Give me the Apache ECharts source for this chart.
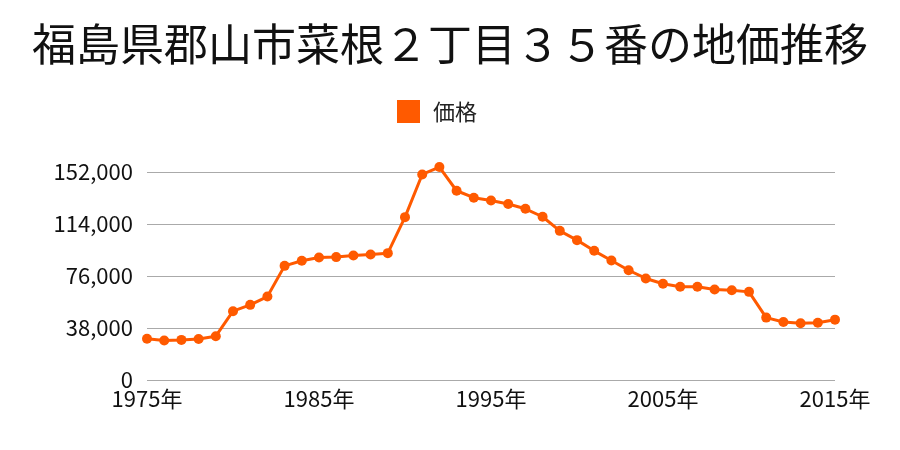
<!DOCTYPE html>
<html><head><meta charset="utf-8">
<script src="https://cdn.jsdelivr.net/npm/echarts@6/dist/echarts.min.js"></script>
<style>html,body{margin:0;padding:0;background:#fff}#c{width:900px;height:450px}</style>
</head><body><div id="c"></div>
<script>
const titleText = '福島県郡山市菜根２丁目３５番の地価推移';
const seriesName = '価格';
const years = [];
for (let y = 1975; y <= 2015; y++) years.push(String(y));
const prices = [30200, 28800, 29300, 30000, 32000, 50300, 54900, 61000, 83400, 87100,
  89500, 89800, 91000, 91700, 92700, 119000, 150200, 155600, 138300, 133200,
  131200, 128600, 125100, 119300, 109000, 102200, 94400, 87300, 80200, 74200,
  70300, 68100, 68100, 66100, 65600, 64400, 45600, 42400, 41500, 41900, 44100];
const yTicks = [0, 38000, 76000, 114000, 152000];

const chart = echarts.init(document.getElementById('c'));
const font = '"Noto Sans CJK JP", "Noto Sans", sans-serif';
chart.setOption({
  animation: false,
  title: { text: titleText, left: 'center', top: 17,
    textStyle: { fontFamily: font, fontSize: 44, fontWeight: 'normal', color: '#111' } },
  legend: { top: 95, left: 392, itemWidth: 23, itemHeight: 23, itemGap: 10,
    data: [{ name: seriesName, icon: 'rect' }],
    textStyle: { fontFamily: font, fontSize: 22, color: '#222', padding: [0, 0, 0, 8] } },
  grid: { left: 147, right: 65, top: 172, bottom: 70, containLabel: false },
  xAxis: { type: 'category', data: years, boundaryGap: false,
    axisLine: { show: false }, axisTick: { show: false },
    axisLabel: { interval: 9, fontFamily: font, fontSize: 22, color: '#111', margin: 8,
      formatter: v => v + '年' } },
  yAxis: { type: 'value', min: yTicks[0], max: yTicks[yTicks.length - 1], interval: 38000,
    axisLine: { show: false }, axisTick: { show: false },
    splitLine: { lineStyle: { color: '#aaa', width: 1 } },
    axisLabel: { fontFamily: font, fontSize: 22, color: '#111', margin: 14,
      formatter: v => v.toLocaleString('en-US') } },
  series: [{ name: seriesName, type: 'line', data: prices, color: '#ff5a00', clip: false,
    symbol: 'circle', symbolSize: 10, lineStyle: { width: 3, color: '#ff5a00' },
    itemStyle: { color: '#ff5a00' } }]
});
</script></body></html>
